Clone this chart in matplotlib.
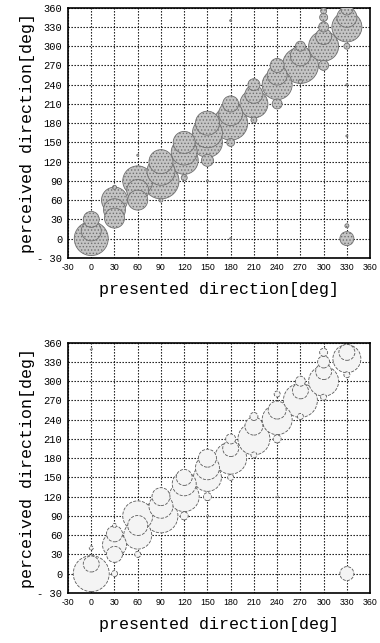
import numpy as np
import matplotlib
matplotlib.use('Agg')
import matplotlib.pyplot as plt

# presented direction, perceived direction, bubble magnitude (radius-like)
top_x = [0, 0, 0,
         30, 30, 30, 30,
         60, 60, 60, 60,
         90, 90, 90, 90,
         120, 120, 120, 120,
         150, 150, 150, 150, 150,
         180, 180, 180, 180, 180, 180,
         210, 210, 210, 210,
         240, 240, 240, 240,
         270, 270, 270, 270,
         300, 300, 300, 300, 300, 300,
         330, 330, 330, 330, 330, 330, 330, 330]
top_y = [0, 12, 30,
         60, 45, 32, 80,
         90, 75, 60, 130,
         90, 105, 120, 60,
         150, 135, 122, 95,
         180, 165, 150, 122, 90,
         180, 195, 210, 150, 0, 340,
         210, 225, 240, 185,
         240, 255, 270, 210,
         270, 285, 300, 245,
         300, 315, 330, 345, 355, 270,
         330, 345, 358, 300, 0, 20, 240, 160]
top_m = [17, 10, 8,
         13, 11, 10, 2,
         15, 11, 10, 1,
         18, 14, 12, 2,
         11, 13, 14, 3,
         12, 15, 15, 6, 1,
         17, 12, 8, 4, 1, 1,
         14, 9, 6, 3,
         15, 10, 7, 5,
         18, 10, 5, 2,
         15, 8, 5, 4, 3, 5,
         15, 10, 6, 3, 7, 2, 1, 1]

bot_x = [0, 0, 0, 0,
         30, 30, 30, 30, 30,
         60, 60, 60, 60,
         90, 90, 90,
         120, 120, 120, 120,
         150, 150, 150, 150, 150,
         180, 180, 180, 180,
         210, 210, 210, 210,
         240, 240, 240, 240, 240,
         270, 270, 270, 270,
         300, 300, 300, 300, 300,
         330, 330, 330, 330]
bot_y = [0, 15, 40, 350,
         45, 62, 30, 0, 75,
         90, 60, 75, 30,
         90, 105, 120,
         120, 140, 150, 90,
         150, 165, 180, 120, 90,
         180, 195, 210, 150,
         210, 230, 245, 185,
         240, 255, 280, 210, 120,
         270, 285, 300, 245,
         300, 315, 330, 345, 275,
         335, 345, 310, 0]
bot_m = [18, 8, 2, 1,
         12, 8, 8, 3, 2,
         15, 14, 10, 3,
         17, 12, 9,
         15, 12, 8, 4,
         14, 12, 9, 4, 1,
         16, 8, 5, 3,
         16, 9, 4, 3,
         15, 9, 3, 4, 1,
         17, 8, 5, 3,
         15, 8, 6, 4, 3,
         14, 8, 3, 7]

ticks = list(range(-30, 361, 30))
tick_labels = ['-30' if t == -30 else str(t) for t in ticks]
ytick_labels = ['- 30' if t == -30 else str(t) for t in ticks]

plt.rcParams['hatch.color'] = '#8a8a8a'
plt.rcParams['hatch.linewidth'] = 0.6

fig = plt.figure(figsize=(3.8, 6.43), dpi=100)
ax1 = fig.add_axes([0.179, 0.599, 0.795, 0.389])
ax2 = fig.add_axes([0.179, 0.078, 0.795, 0.389])


def draw(ax, xs, ys, ms, face, edge, ls, hatch=None):
    xs = np.array(xs); ys = np.array(ys); ms = np.array(ms, dtype=float)
    order = np.argsort(-ms)
    s = 2.07 * ms[order] ** 2
    ax.scatter(xs[order], ys[order], s=s, facecolor=face, edgecolor=edge,
               linewidths=0.6, linestyle=ls, hatch=hatch, zorder=3)
    ax.set_xlim(-30, 360)
    ax.set_ylim(-30, 360)
    ax.set_xticks(ticks)
    ax.set_yticks(ticks)
    ax.set_xticklabels(tick_labels, fontsize=6.3, family='Liberation Sans')
    ax.set_yticklabels(ytick_labels, fontsize=7.5, family='Liberation Mono')
    ax.tick_params(length=0, pad=4)
    ax.grid(True, color='black', linestyle=(0, (1.2, 1.5)), linewidth=0.8, zorder=1)
    ax.set_axisbelow(True)
    for sp in ax.spines.values():
        sp.set_linewidth(1.2)
    ax.set_xlabel('presented direction[deg]', family='Liberation Mono', fontsize=12, labelpad=7)
    ax.set_ylabel('perceived direction[deg]', family='Liberation Mono', fontsize=12, labelpad=2)


draw(ax1, top_x, top_y, top_m, '#c4c4c4', '#707070', 'solid', hatch='.....')
draw(ax2, bot_x, bot_y, bot_m, '#f4f4f4', '#5a5a5a', 'dashed')

fig.savefig('out.png', dpi=100)
